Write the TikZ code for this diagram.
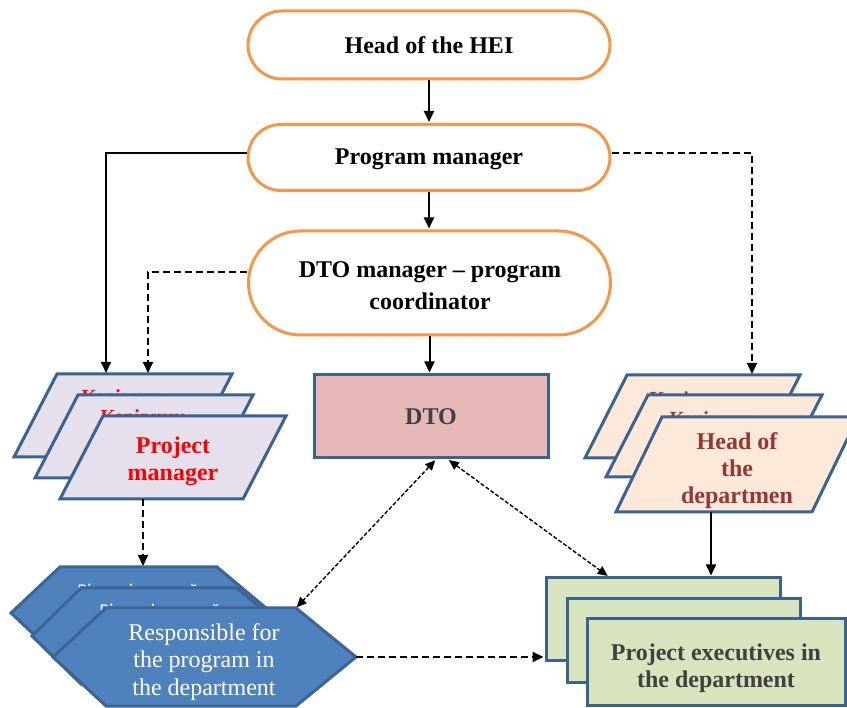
\documentclass[tikz,border=0pt]{standalone}
\usepackage{fontspec}
\setmainfont{Liberation Serif}
\newfontfamily\carlitofont{Carlito}
\usetikzlibrary{arrows.meta,calc}
\definecolor{orng}{HTML}{F79646}
\definecolor{bord}{HTML}{3B6392}
\definecolor{lav}{HTML}{E5E0EC}
\definecolor{pinkf}{HTML}{E6B9B8}
\definecolor{peach}{HTML}{FDE9D9}
\definecolor{greenf}{HTML}{D7E4BD}
\definecolor{hexf}{HTML}{4F81BD}
\definecolor{hexb}{HTML}{3A6596}
\definecolor{dred}{HTML}{953735}
\definecolor{dgray}{HTML}{404040}
\begin{document}
\begin{tikzpicture}[x=1pt,y=1pt,
  pill/.style={draw=orng, line width=3pt, fill=white, rounded corners=#1, inner sep=0pt, align=center,
    font=\fontsize{24}{32}\selectfont\bfseries},
  bodytxt/.style={inner sep=0pt, align=center, font=\fontsize{24}{27}\selectfont\bfseries},
  hidtxt/.style={inner sep=0pt, anchor=base, font=\fontsize{20}{24}\selectfont\bfseries},
  hidhex/.style={inner sep=0pt, anchor=base, text=white, font=\carlitofont\fontsize{18}{22}\selectfont},
  lpar/.style={draw=bord, fill=lav, line width=3pt},
  rpar/.style={draw=bord, fill=peach, line width=3pt},
  hexa/.style={draw=hexb, fill=hexf, line width=3pt},
  grect/.style={draw=bord, fill=greenf, line width=3pt, inner sep=0pt, align=center},
  solidarr/.style={line width=2pt, -{Triangle[length=11pt,width=10pt]}, shorten >=1pt},
  dasharr/.style={solidarr, dash pattern=on 7pt off 4pt},
  dotarr/.style={line width=1.4pt, dash pattern=on 4pt off 2pt,
    {Triangle[length=10pt,width=9pt]}-{Triangle[length=10pt,width=9pt]}, shorten >=1pt, shorten <=1pt}
]
\useasboundingbox (0,0) rectangle (847,-708);
\clip (0,0) rectangle (847,-708);

% ---- pills ----
\node[pill=34pt, minimum width=362pt, minimum height=68pt] (head) at (429,-45) {Head of the HEI};
\node[pill=33pt, minimum width=362pt, minimum height=66pt] (prog) at (429,-157.5) {};
\node[bodytxt] (progt) at (429,-159) {Program manager};
\node[pill=52pt, minimum width=362pt, minimum height=104pt] (dtom) at (429.5,-283) {};
\node[pill=0pt, draw=none, fill=none] (dtomt) at (430,-286) {DTO manager -- program\\coordinator};

% ---- DTO ----
\node[draw=bord, fill=pinkf, line width=3pt, minimum width=234pt, minimum height=83pt, inner sep=0pt,
  text=dgray, font=\fontsize{24}{27}\selectfont\bfseries] (dto) at (431,-416.5) {DTO};

% ---- left parallelograms ----
\filldraw[lpar] (57,-374) -- (232,-374) -- (189,-457) -- (14,-457) -- cycle;
\node[hidtxt, text=red] (lph1) at (124,-404) {Керівник};
\filldraw[lpar] (78,-395) -- (253,-395) -- (210,-478) -- (35,-478) -- cycle;
\node[hidtxt, text=red] (lph2) at (143,-424) {Керівник};
\filldraw[lpar] (103,-416) -- (286,-416) -- (243,-499) -- (60,-499) -- cycle;
\node[bodytxt, text=red] (pm) at (173,-461) {Project\\manager};
\coordinate (lpA) at (106,-374);
\coordinate (lpB) at (148,-374);
\coordinate (lpBot) at (143,-499);

% ---- right parallelograms ----
\filldraw[rpar] (627,-375) -- (800,-375) -- (758,-458) -- (585,-458) -- cycle;
\node[hidtxt, text=dred] (rph1) at (692,-406) {Керівник};
\filldraw[rpar] (648,-395) -- (822,-395) -- (780,-477) -- (606,-477) -- cycle;
\node[hidtxt, text=dred] (rph2) at (712,-426) {Керівник};
\filldraw[rpar] (662,-417) -- (858,-417) -- (812,-512) -- (616,-512) -- cycle;
\node[bodytxt, text=dred] (hd) at (737,-471) {Head of\\the\\departmen};
\coordinate (rpTop) at (752,-375);
\coordinate (rpBot) at (711,-512);

% ---- hexagons ----
\filldraw[hexa] (60,-567) -- (217,-567) -- (272,-613) -- (217,-659) -- (60,-659) -- (11,-613) -- cycle;
\node[hidhex] (hh1) at (138,-597) {Відповідальний};
\filldraw[hexa] (81,-588) -- (237,-588) -- (294,-636) -- (237,-684) -- (81,-684) -- (32,-636) -- cycle;
\node[hidhex] (hh2) at (160,-617) {Відповідальний};
\filldraw[hexa] (106,-608) -- (296,-608) -- (356,-657) -- (296,-706) -- (106,-706) -- (53,-657) -- cycle;
\node[inner sep=0pt, align=center, text=white, font=\fontsize{24}{27.5}\selectfont] (resp) at (204,-662)
  {Responsible for\\the program in\\the department};
\coordinate (h1top) at (143,-567);
\coordinate (h3tr) at (296,-608);
\coordinate (h3r) at (356,-657);

% ---- green rectangles ----
\node[grect, minimum width=234pt, minimum height=82pt] (g1) at (663,-619) {};
\node[grect, minimum width=233pt, minimum height=83pt] (g2) at (683.5,-640.5) {};
\node[grect, minimum width=258pt, minimum height=86pt] (g3) at (716,-662) {};
\node[bodytxt, text=dgray] (pe) at (716,-668) {Project executives in\\the department};

% ---- connectors ----
\draw[solidarr] (head.south) -- (head.south |- prog.north);
\draw[solidarr] (prog.south) -- (prog.south |- dtom.north);
\draw[solidarr] (dtom.south) -- (dtom.south |- dto.north);
\draw[solidarr] ([yshift=4pt]prog.west) -| (lpA);
\draw[dasharr] ([yshift=11pt]dtom.west) -| (lpB);
\draw[dasharr] ([yshift=4pt]prog.east) -| (rpTop);
\draw[dasharr] (lpBot) -- (h1top);
\draw[solidarr] (rpBot) -- (rpBot |- g1.north);
\draw[dasharr] (h3r) -- (h3r -| g1.west);
\draw[dotarr] ([xshift=5pt]dto.south) -- (h3tr);
\draw[dotarr] ([xshift=17pt]dto.south) -- ($(g1.north west)+(64,0)$);
\end{tikzpicture}
\end{document}
